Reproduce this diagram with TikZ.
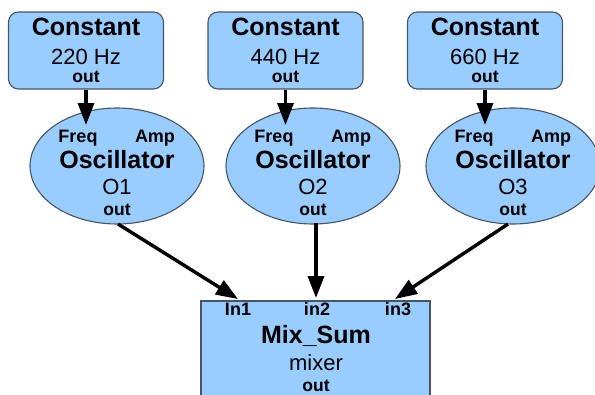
\documentclass[tikz,border=0pt]{standalone}
\usepackage{fontspec}
\setmainfont{Liberation Sans}
\usetikzlibrary{shapes.geometric,arrows.meta}
\definecolor{modfill}{RGB}{153,204,255}
\definecolor{modline}{RGB}{70,85,100}
\tikzset{
  constbox/.style={draw=modline, fill=modfill, line width=1.1pt, rounded corners=10pt,
    minimum width=155pt, minimum height=77pt, inner sep=0pt},
  oscshape/.style={ellipse, draw=modline, fill=modfill, line width=1.1pt,
    minimum width=174pt, minimum height=116pt, inner sep=0pt},
  mixbox/.style={draw=modline, fill=modfill, line width=1.1pt,
    minimum width=229pt, minimum height=100pt, inner sep=0pt},
  title/.style={font=\fontsize{25}{25}\selectfont\bfseries, anchor=base, inner sep=0pt},
  sub/.style={font=\fontsize{22}{22}\selectfont, anchor=base, inner sep=0pt},
  port/.style={font=\fontsize{17.5}{17.5}\selectfont\bfseries, anchor=base, inner sep=0pt},
  inport/.style={font=\fontsize{18}{18}\selectfont\bfseries, anchor=base, inner sep=0pt},
  wire/.style={line width=3.4pt, -{Triangle[length=22pt,width=16pt]}}
}
\begin{document}
\begin{tikzpicture}[x=1pt,y=-1pt]
  \useasboundingbox (0,0) rectangle (595,394);

  % constants, oscillators and the wires between them
  \foreach \i/\bx/\ex/\hz in {1/86/117/220, 2/285.5/313/440, 3/485/513/660} {
    \node[constbox] (c\i) at (\bx,50.5) {};
    \node[title] (ct\i) at (\bx,35) {Constant};
    \node[sub] (cv\i) at (\bx,64) {\hz\ Hz};
    \node[port] (co\i) at (\bx,82) {out};

    \node[oscshape] (o\i) at (\ex,166) {};
    \node[inport] (of\i) at (\ex-39,142) {Freq};
    \node[inport] (oa\i) at (\ex+38,142) {Amp};
    \node[title] (on\i) at (\ex,168) {Oscillator};
    \node[sub] (oi\i) at (\ex,194) {O\i};
    \node[port] (oo\i) at (\ex,215) {out};

    \coordinate (freq\i) at (\bx,125);
    \draw[wire] (c\i.south) -- (freq\i);
  }

  % mixer
  \node[mixbox] (mix) at (315.5,351) {};
  \node[inport] (in1) at (238,315) {In1};
  \node[inport] (in2) at (317,315) {in2};
  \node[inport] (in3) at (398,315) {in3};
  \node[title] (mixname) at (316,343) {Mix\_Sum};
  \node[sub] (mixtype) at (316,370) {mixer};
  \node[port] (mixout) at (316,391) {out};

  \coordinate (src1) at (118,224);
  \coordinate (src2) at (316,223);
  \coordinate (src3) at (508,224);
  \coordinate (dst1) at (238,299);
  \coordinate (dst2) at (316,298);
  \coordinate (dst3) at (395,299);
  \draw[wire] (src1) -- (dst1);
  \draw[wire] (src2) -- (dst2);
  \draw[wire] (src3) -- (dst3);
\end{tikzpicture}
\end{document}
